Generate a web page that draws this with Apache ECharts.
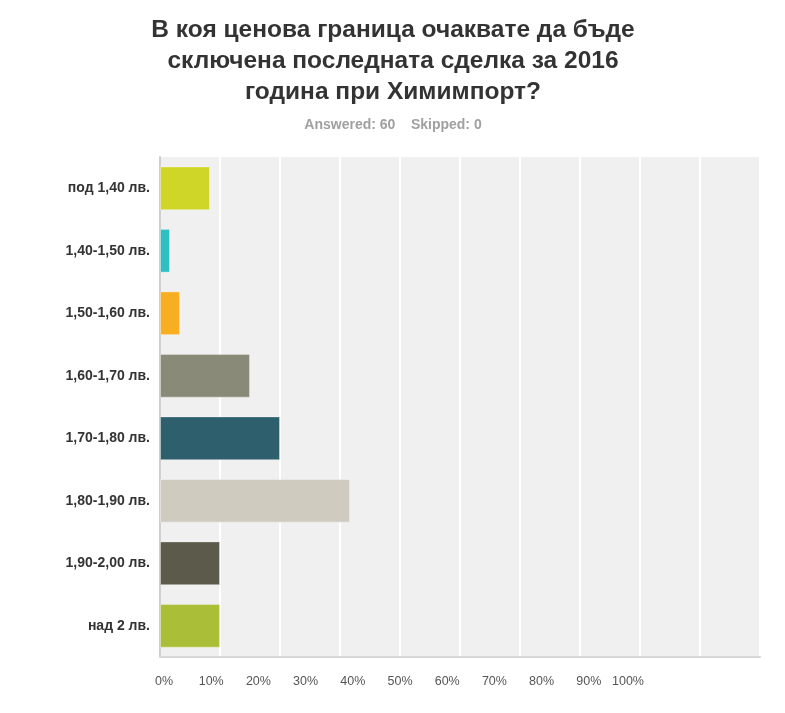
<!DOCTYPE html>
<html>
<head>
<meta charset="utf-8">
<script src="https://cdn.jsdelivr.net/npm/echarts@6/dist/echarts.min.js"></script>
<style>
html,body{margin:0;padding:0;background:#fff;}
#chart{width:785px;height:713px;}
</style>
</head>
<body>
<div id="chart"></div>
<script>
var titleText = 'В коя ценова граница очаквате да бъде\nсключена последната сделка за 2016\nгодина при Химимпорт?';
var subtitleText = 'Answered: 60    Skipped: 0';
var categories = ['под 1,40 лв.', '1,40-1,50 лв.', '1,50-1,60 лв.', '1,60-1,70 лв.', '1,70-1,80 лв.', '1,80-1,90 лв.', '1,90-2,00 лв.', 'над 2 лв.'];
var values = [8.33, 1.67, 3.33, 15, 20, 31.67, 10, 10];
var barColors = ['#d0d628', '#30bfc0', '#f7ae21', '#898a77', '#2e5f6d', '#cfccbf', '#5c5a4b', '#abbe38'];
var tickLabels = ['0%', '10%', '20%', '30%', '40%', '50%', '60%', '70%', '80%', '90%', '100%'];

var chart = echarts.init(document.getElementById('chart'));
var font = 'Liberation Sans, Arial, sans-serif';

chart.setOption({
  backgroundColor: '#ffffff',
  animation: false,
  title: [{
    text: titleText,
    left: 388,
    textAlign: 'center',
    top: 10,
    textStyle: {fontFamily: font, fontSize: 24.5, fontWeight: 'bold', color: '#333333', lineHeight: 31}
  }, {
    text: subtitleText,
    left: 388,
    textAlign: 'center',
    top: 113,
    textStyle: {fontFamily: font, fontSize: 14, fontWeight: 'bold', color: '#a0a0a0'}
  }],
  grid: [
    {left: 160, right: 25, top: 157, bottom: 56, show: true, backgroundColor: '#f0f0f0', borderWidth: 0},
    {left: 164, right: 149, top: 157, bottom: 56, show: false}
  ],
  xAxis: [{
    type: 'value',
    gridIndex: 0,
    min: 0,
    max: 100,
    interval: 10,
    axisLine: {show: true, lineStyle: {color: '#d6d6d6', width: 2}},
    axisTick: {show: false},
    axisLabel: {show: false},
    splitLine: {show: true, lineStyle: {color: '#ffffff', width: 2}}
  }, {
    type: 'category',
    gridIndex: 1,
    data: tickLabels,
    boundaryGap: false,
    axisLine: {show: false},
    axisTick: {show: false},
    splitLine: {show: false},
    axisLabel: {
      show: true,
      interval: 0,
      margin: 18,
      fontFamily: font,
      fontSize: 12.5,
      color: '#555555',
      formatter: function (v, i) { return i === 10 ? '{s|' + v + '}' : v; },
      rich: {s: {fontFamily: font, fontSize: 12.5, color: '#555555', padding: [0, 16, 0, 0]}}
    }
  }],
  yAxis: [{
    type: 'category',
    gridIndex: 0,
    data: categories,
    inverse: true,
    axisLine: {show: true, lineStyle: {color: '#cfcfcf', width: 2}},
    axisTick: {show: false},
    splitLine: {show: false},
    axisLabel: {margin: 10, fontFamily: font, fontSize: 14, fontWeight: 'bold', color: '#333333'}
  }, {
    type: 'value',
    gridIndex: 1,
    show: false
  }],
  series: [{
    type: 'bar',
    xAxisIndex: 0,
    yAxisIndex: 0,
    barWidth: '70%',
    data: values.map(function (v, i) {
      return {value: v, itemStyle: {color: barColors[i]}};
    }),
    itemStyle: {borderColor: 'rgba(255,255,255,0.35)', borderWidth: 1}
  }]
});
</script>
</body>
</html>
